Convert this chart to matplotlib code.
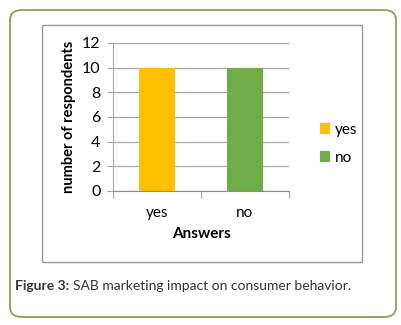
import matplotlib.pyplot as plt
from matplotlib.patches import FancyBboxPatch, Rectangle, Patch

W, H = 402, 325

answers = ["yes", "no"]
respondents = [10, 10]
bar_colors = ["#FFC000", "#70AD47"]
y_ticks = [0, 2, 4, 6, 8, 10, 12]

plt.rcParams['font.family'] = ['Lato', 'DejaVu Sans']

fig = plt.figure(figsize=(W / 100, H / 100), dpi=100)


def fx(px):
    return px / W


def fy(py):
    return 1 - py / H


# outer rounded frame
outer = FancyBboxPatch((fx(10), fy(317)), fx(386), 307 / H,
                       boxstyle="round,pad=0,rounding_size=0.03",
                       transform=fig.transFigure, facecolor="white",
                       edgecolor="#8aa05a", linewidth=1.3, zorder=-2)
fig.patches.append(outer)

# chart frame
frame = Rectangle((fx(42), fy(262)), fx(320), 237 / H,
                  transform=fig.transFigure, facecolor="white",
                  edgecolor="#9a9a9a", linewidth=1.0, zorder=-1)
fig.patches.append(frame)

ax = fig.add_axes([fx(113), fy(191), fx(176), 148 / H])
ax.set_zorder(2)
ax.patch.set_alpha(0)
x = range(len(answers))
ax.bar(x, respondents, width=0.4, color=bar_colors, zorder=3)
ax.set_xlim(-0.5, 1.5)
ax.set_ylim(0, 12)
ax.set_yticks(y_ticks)
ax.set_yticklabels([str(v) for v in y_ticks], fontsize=11.5)
ax.yaxis.grid(True, color="#a6a6a6", linewidth=0.9, zorder=0)
ax.set_axisbelow(True)
ax.tick_params(axis="y", length=4, color="#a6a6a6", pad=5)
ax.set_xticks([-0.5, 0.5, 1.5])
ax.set_xticklabels([])
ax.set_xticks([0, 1], minor=True)
ax.set_xticklabels(answers, minor=True, fontsize=11)
ax.tick_params(axis="x", which="major", length=5, color="#a6a6a6")
ax.tick_params(axis="x", which="minor", length=0, pad=11)
for s in ["top", "right"]:
    ax.spines[s].set_visible(False)
ax.spines["left"].set_color("#a6a6a6")
ax.spines["bottom"].set_color("#8c8c8c")
ax.set_xlabel("Answers", fontsize=11, fontweight="bold", labelpad=5)
ax.set_ylabel("number of respondents", fontsize=10.5, fontweight="bold", labelpad=4)

handles = [Patch(facecolor=c, edgecolor="none") for c in bar_colors]
leg = fig.legend(handles, answers, loc="center left",
                 bbox_to_anchor=(fx(306), fy(144)), frameon=False, fontsize=11,
                 handlelength=0.7, handleheight=0.7, handletextpad=0.3,
                 labelspacing=0.9)
leg.set_zorder(3)

fig.text(fx(15), fy(286), "Figure 3:", fontsize=10, fontweight="bold",
         color="#333333", va="center")
fig.text(fx(73), fy(286), "SAB marketing impact on consumer behavior.",
         fontsize=10, color="#333333", va="center")

fig.savefig("out.png", dpi=100)
